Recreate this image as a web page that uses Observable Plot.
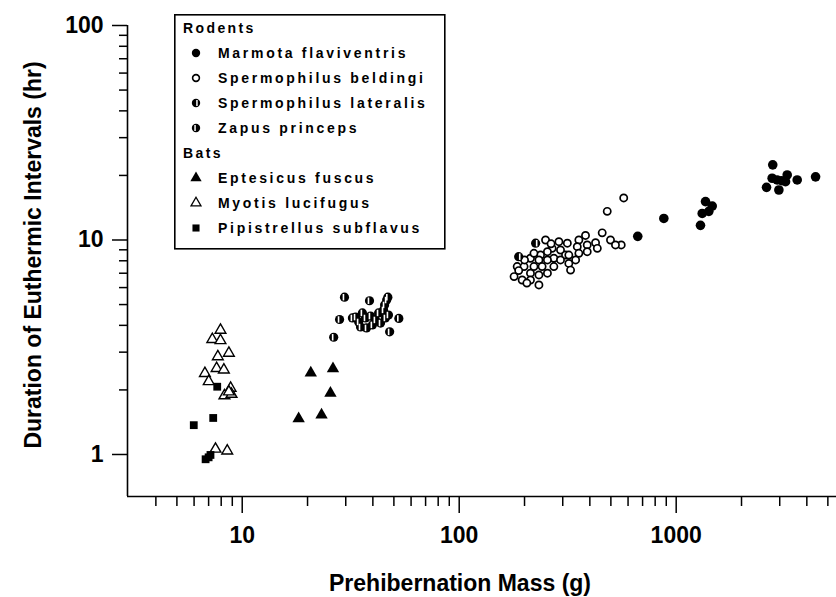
<!DOCTYPE html>
<html>
<head>
<meta charset="utf-8">
<script src="https://cdn.jsdelivr.net/npm/d3@7"></script>
<script src="https://cdn.jsdelivr.net/npm/@observablehq/plot@0.6"></script>
<style>
  html, body { margin: 0; padding: 0; background: #fff; }
  #wrap { position: relative; width: 836px; height: 597px; }
  #legend { position: absolute; left: 174px; top: 14px; }
</style>
</head>
<body>
<div id="wrap"></div>
<script>
// ---- Data ----
const speciesNames = ["Marmota flaviventris", "Spermophilus beldingi", "Spermophilus lateralis", "Zapus princeps",
                      "Eptesicus fuscus", "Myotis lucifugus", "Pipistrellus subflavus"];
const groupNames = ["Rodents", "Bats"];

const marmotaMass  = [2786, 2768, 2918, 3248, 3191, 2973, 2608, 3611, 4389, 3061, 1365, 1466, 1414, 1318, 1294, 877, 665];
const marmotaHours = [22.4, 19.4, 19.05, 20.1, 18.7, 17.1, 17.6, 19.05, 19.7, 18.9, 15.1, 14.4, 13.6, 13.3, 11.7, 12.6, 10.4];

const beldingiMass  = [573, 481, 558, 498, 525, 456, 382, 425, 433, 389, 356, 350, 389, 356, 315, 288, 293, 309, 268, 255,
                       320, 344, 273, 255, 237, 213, 233, 241, 255, 221, 233, 213, 185, 199, 179, 195, 213, 233, 221, 273,
                       293, 320, 326, 200, 250, 188, 205, 265];
const beldingiHours = [15.7, 13.6, 9.48, 10.0, 9.48, 10.8, 10.5, 9.71, 9.14, 9.48, 10.0, 9.31, 8.82, 8.67, 9.66, 9.82, 8.98, 8.51, 9.14, 8.82,
                       7.78, 8.07, 8.22, 8.07, 8.51, 8.22, 8.07, 7.52, 7.00, 7.52, 6.87, 7.00, 7.52, 7.52, 6.75, 6.51, 6.51, 6.17, 8.67, 7.52,
                       8.07, 8.51, 7.24, 8.07, 10.0, 7.2, 6.3, 9.6];

const lateralisMass  = [225, 188];
const lateralisHours = [9.66, 8.36];

const zapusMass  = [29.6, 38.6, 46.9, 28.1, 26.4, 52.7, 47.8, 33.3, 34.4, 35.1, 37.0, 39.0, 42.5, 44.8, 45.7, 47.2, 43.4, 39.8, 35.8, 37.4, 45.3, 46.3, 41.1, 32.2];
const zapusHours = [5.41, 5.21, 5.41, 4.26, 3.52, 4.31, 3.73, 4.37, 4.15, 3.93, 4.33, 4.42, 4.57, 4.72, 4.33, 4.47, 4.10, 4.02, 4.57, 3.89, 4.98, 5.25, 4.24, 4.33];

const eptesicusMass  = [20.7, 26.2, 25.5, 23.2, 18.2];
const eptesicusHours = [2.40, 2.51, 1.93, 1.53, 1.47];

const myotisMass  = [7.94, 7.28, 7.94, 7.72, 8.68, 7.62, 8.23, 6.73, 7.01, 8.84, 8.28, 8.93, 8.68, 7.53, 8.53];
const myotisHours = [3.80, 3.44, 3.40, 2.86, 2.97, 2.52, 2.48, 2.39, 2.19, 2.04, 1.88, 1.91, 1.96, 1.06, 1.04];

const pipistrellusMass  = [7.67, 5.98, 7.35, 6.78, 7.14, 7.0];
const pipistrellusHours = [2.07, 1.37, 1.48, 0.95, 0.995, 0.97];

const xMajorTicks = [10, 100, 1000];
const xMinorTicks = [4, 5, 6, 7, 8, 9, 20, 30, 40, 50, 60, 70, 80, 90, 200, 300, 400, 500, 600, 700, 800, 900, 2000, 3000, 4000, 5000];
const yMajorTicks = [1, 10, 100];
const yMinorTicks = [2, 3, 4, 5, 6, 7, 8, 9, 20, 30, 40, 50, 60, 70, 80, 90];

const xLabel = "Prehibernation Mass (g)";
const yLabel = "Duration of Euthermic Intervals (hr)";

// ---- Build table ----
const massArrays  = [marmotaMass, beldingiMass, lateralisMass, zapusMass, eptesicusMass, myotisMass, pipistrellusMass];
const hoursArrays = [marmotaHours, beldingiHours, lateralisHours, zapusHours, eptesicusHours, myotisHours, pipistrellusHours];
const data = [];
speciesNames.forEach((s, i) => massArrays[i].forEach((m, j) => data.push({species: s, mass: m, hours: hoursArrays[i][j]})));
const of = (s) => data.filter(d => d.species === s);

// custom symbol: white slit used on half-filled circles
const slitRight = { draw(ctx, size) { const r = Math.sqrt(size / Math.PI); ctx.rect(r * 0.05, -r * 0.7, r * 0.35, r * 1.4); } };
const slitLeft  = { draw(ctx, size) { const r = Math.sqrt(size / Math.PI); ctx.rect(-r * 0.4, -r * 0.7, r * 0.35, r * 1.4); } };

const xDomain = [2.96, 5480];
const yDomain = [0.637, 100];

const chart = Plot.plot({
  width: 836,
  height: 597,
  marginLeft: 127,
  marginRight: 0,
  marginTop: 25,
  marginBottom: 101,
  x: { type: "log", domain: xDomain, label: null },
  y: { type: "log", domain: yDomain, label: null },
  style: { fontFamily: "'Liberation Sans', Arial, sans-serif", background: "white", color: "black" },
  marks: [
    Plot.ruleX([xDomain[0]], { stroke: "black", strokeWidth: 1.6 }),
    Plot.ruleY([yDomain[0]], { stroke: "black", strokeWidth: 1.6 }),
    Plot.axisX(xMajorTicks, { tickSize: 17, tickPadding: 13, strokeWidth: 1.5, fontSize: 23, fontWeight: "bold", tickFormat: d => String(d), label: null, style: "letter-spacing:1.5px" }),
    Plot.axisX(xMinorTicks, { tickSize: 10, strokeWidth: 1.5, tickFormat: () => "", label: null }),
    Plot.axisY(yMajorTicks, { tickSize: 15, tickPadding: 9, strokeWidth: 1.5, fontSize: 23, fontWeight: "bold", tickFormat: d => String(d), label: null, style: "letter-spacing:1.5px" }),
    Plot.axisY(yMinorTicks, { tickSize: 8, strokeWidth: 1.5, tickFormat: () => "", label: null }),
    Plot.text([xLabel], { text: d => d, frameAnchor: "bottom", lineAnchor: "middle", dy: 87, dx: -22, fontSize: 23, fontWeight: "bold", fill: "black", style: "letter-spacing:1.5px" }),
    Plot.text([yLabel], { text: d => d, frameAnchor: "left", textAnchor: "middle", lineAnchor: "middle", rotate: -90, dx: -94, dy: -6, fontSize: 23, fontWeight: "bold", fill: "black", style: "letter-spacing:1.2px" }),
    // points
    Plot.dot(of(speciesNames[0]), { x: "mass", y: "hours", r: 4.8, fill: "black", symbol: "circle" }),
    Plot.dot(of(speciesNames[1]), { x: "mass", y: "hours", r: 3.6, fill: "white", stroke: "black", strokeWidth: 1.7, symbol: "circle" }),
    Plot.dot(of(speciesNames[2]), { x: "mass", y: "hours", r: 4.6, fill: "black", symbol: "circle" }),
    Plot.dot(of(speciesNames[2]), { x: "mass", y: "hours", r: 4.6, fill: "white", symbol: slitRight }),
    Plot.dot(of(speciesNames[3]), { x: "mass", y: "hours", r: 4.6, fill: "black", symbol: "circle" }),
    Plot.dot(of(speciesNames[3]), { x: "mass", y: "hours", r: 4.6, fill: "white", symbol: slitLeft }),
    Plot.dot(of(speciesNames[4]), { x: "mass", y: "hours", r: 4.6, fill: "black", symbol: "triangle" }),
    Plot.dot(of(speciesNames[5]), { x: "mass", y: "hours", r: 4.0, fill: "white", stroke: "black", strokeWidth: 1.4, symbol: "triangle" }),
    Plot.dot(of(speciesNames[6]), { x: "mass", y: "hours", r: 4.4, fill: "black", symbol: "square" })
  ]
});
document.getElementById("wrap").appendChild(chart);

// ---- Legend (overlay) ----
const legendRows = [
  { kind: "group", label: groupNames[0] },
  { kind: "item", label: speciesNames[0], sym: "fill" },
  { kind: "item", label: speciesNames[1], sym: "open" },
  { kind: "item", label: speciesNames[2], sym: "halfR" },
  { kind: "item", label: speciesNames[3], sym: "halfL" },
  { kind: "group", label: groupNames[1] },
  { kind: "item", label: speciesNames[4], sym: "triFill" },
  { kind: "item", label: speciesNames[5], sym: "triOpen" },
  { kind: "item", label: speciesNames[6], sym: "square" }
];
const lg = d3.select("#wrap").append("svg")
  .attr("id", "legend").attr("width", 272).attr("height", 236)
  .style("font-family", "'Liberation Sans', Arial, sans-serif");
lg.append("rect").attr("x", 0.8).attr("y", 0.8).attr("width", 270).attr("height", 234)
  .attr("fill", "white").attr("stroke", "black").attr("stroke-width", 1.6);
legendRows.forEach((row, i) => {
  const cy = 14 + i * 25;
  if (row.kind === "group") {
    lg.append("text").attr("x", 9).attr("y", cy).attr("dy", "0.35em")
      .attr("font-size", 14).attr("font-weight", "bold").style("letter-spacing", "2.4px").text(row.label);
  } else {
    const g = lg.append("g").attr("transform", `translate(22,${cy})`);
    const circ = d3.symbol(d3.symbolCircle, Math.PI * 4.2 * 4.2)();
    if (row.sym === "fill") g.append("path").attr("d", circ).attr("fill", "black");
    if (row.sym === "open") g.append("path").attr("d", d3.symbol(d3.symbolCircle, Math.PI * 3.4 * 3.4)()).attr("fill", "white").attr("stroke", "black").attr("stroke-width", 1.6);
    if (row.sym === "halfR" || row.sym === "halfL") {
      g.append("path").attr("d", circ).attr("fill", "black");
      g.append("path").attr("d", d3.symbol(row.sym === "halfR" ? slitRight : slitLeft, Math.PI * 4.2 * 4.2)()).attr("fill", "white");
    }
    if (row.sym === "triFill") g.append("path").attr("d", d3.symbol(d3.symbolTriangle, Math.PI * 4.2 * 4.2)()).attr("fill", "black");
    if (row.sym === "triOpen") g.append("path").attr("d", d3.symbol(d3.symbolTriangle, Math.PI * 3.7 * 3.7)()).attr("fill", "white").attr("stroke", "black").attr("stroke-width", 1.3);
    if (row.sym === "square") g.append("path").attr("d", d3.symbol(d3.symbolSquare, Math.PI * 4 * 4)()).attr("fill", "black");
    lg.append("text").attr("x", 44).attr("y", cy).attr("dy", "0.35em")
      .attr("font-size", 14).attr("font-weight", "bold").style("letter-spacing", "2.7px").text(row.label);
  }
});
</script>
</body>
</html>
